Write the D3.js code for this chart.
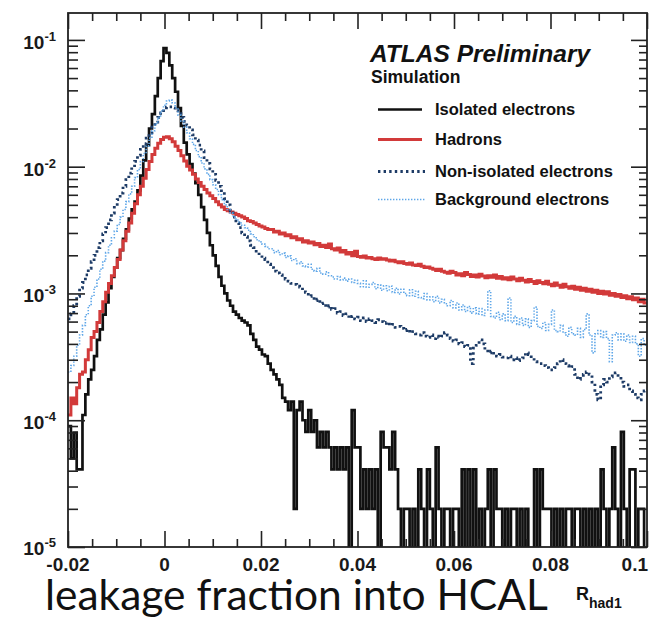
<!DOCTYPE html>
<html><head><meta charset="utf-8">
<script src="https://cdn.jsdelivr.net/npm/d3@7"></script>
<style>body{margin:0;background:#fff}</style>
</head><body>
<svg id="chart" width="666" height="626"></svg>
<script>
// Histogram binning: 200 bins from -0.02 to 0.1
const xMin = -0.02, xMax = 0.1, nBins = 200;

// Normalised R_had1 distributions (bin contents)
const isolated = [
  9.0e-5,5.0e-5,8.0e-5,4.1e-5,4.1e-5,1.1e-4,1.6e-4,2.1e-4,2.5e-4,3.2e-4,
  4.3e-4,5.2e-4,6.8e-4,8.5e-4,1.1e-3,1.35e-3,1.6e-3,1.9e-3,2.2e-3,2.7e-3,
  3.2e-3,3.9e-3,4.6e-3,5.3e-3,6.5e-3,8.5e-3,1.12e-2,1.48e-2,2.0e-2,2.6e-2,
  3.6e-2,5.0e-2,6.8e-2,8.6e-2,7.9e-2,6.3e-2,5.0e-2,3.9e-2,2.9e-2,2.1e-2,
  1.55e-2,1.25e-2,1.05e-2,8.8e-3,7.4e-3,6.0e-3,4.8e-3,3.8e-3,3.0e-3,2.4e-3,
  2.0e-3,1.65e-3,1.35e-3,1.15e-3,1.0e-3,8.8e-4,8.0e-4,7.2e-4,6.8e-4,6.4e-4,
  6.1e-4,5.9e-4,5.6e-4,4.8e-4,4.3e-4,3.8e-4,3.6e-4,3.3e-4,3.2e-4,2.8e-4,
  2.5e-4,2.3e-4,2.1e-4,1.9e-4,1.5e-4,1.4e-4,1.2e-4,1.4e-4,2.0e-5,1.2e-4,
  1.4e-4,1.0e-4,8.1e-5,1.2e-4,8.1e-5,1.0e-4,6.1e-5,8.1e-5,6.1e-5,8.1e-5,
  6.1e-5,4.1e-5,6.1e-5,4.1e-5,6.1e-5,4.1e-5,6.1e-5,0,1.2e-4,6.1e-5,
  6.1e-5,2.0e-5,4.1e-5,2.0e-5,4.1e-5,2.0e-5,4.1e-5,0,8.1e-5,6.1e-5,
  6.1e-5,4.1e-5,8.1e-5,4.1e-5,2.0e-5,0,2.0e-5,2.0e-5,0,2.0e-5,
  0,4.1e-5,2.0e-5,0,4.1e-5,2.0e-5,0,6.1e-5,2.0e-5,0,
  2.0e-5,2.0e-5,0,2.0e-5,2.0e-5,0,4.1e-5,0,4.1e-5,0,
  4.1e-5,0,2.0e-5,0,2.0e-5,4.1e-5,0,4.1e-5,2.0e-5,2.0e-5,
  0,2.0e-5,0,2.0e-5,2.0e-5,0,2.0e-5,0,2.0e-5,0,
  0,4.1e-5,0,4.1e-5,2.0e-5,2.0e-5,2.0e-5,0,2.0e-5,0,
  2.0e-5,0,2.0e-5,2.0e-5,0,2.0e-5,2.0e-5,0,2.0e-5,0,
  2.0e-5,0,2.0e-5,0,4.1e-5,2.0e-5,0,2.0e-5,6.1e-5,2.0e-5,
  0,8.1e-5,2.0e-5,0,4.1e-5,4.1e-5,0,2.0e-5,2.0e-5,0
];

const hadrons = [
  1.1e-4,1.5e-4,1.35e-4,1.8e-4,2.3e-4,2.4e-4,3.0e-4,3.6e-4,4.5e-4,5.0e-4,
  5.9e-4,7.2e-4,8.6e-4,1.02e-3,1.2e-3,1.38e-3,1.6e-3,1.85e-3,2.2e-3,2.6e-3,
  3.1e-3,3.6e-3,4.3e-3,5.1e-3,6.0e-3,7.0e-3,8.1e-3,9.5e-3,1.10e-2,1.25e-2,
  1.40e-2,1.53e-2,1.64e-2,1.71e-2,1.72e-2,1.66e-2,1.57e-2,1.45e-2,1.34e-2,1.22e-2,
  1.11e-2,1.01e-2,9.4e-3,8.7e-3,8.0e-3,7.5e-3,7.0e-3,6.6e-3,6.2e-3,5.9e-3,
  5.6e-3,5.3e-3,5.0e-3,4.8e-3,4.6e-3,4.5e-3,4.4e-3,4.3e-3,4.2e-3,4.1e-3,
  4.0e-3,3.9e-3,3.75e-3,3.7e-3,3.6e-3,3.5e-3,3.4e-3,3.35e-3,3.25e-3,3.2e-3,
  3.2e-3,3.05e-3,3.1e-3,2.95e-3,3.0e-3,2.85e-3,2.9e-3,2.75e-3,2.8e-3,2.65e-3,
  2.7e-3,2.55e-3,2.6e-3,2.5e-3,2.55e-3,2.42e-3,2.48e-3,2.35e-3,2.4e-3,2.3e-3,
  2.45e-3,2.25e-3,2.2e-3,2.28e-3,2.12e-3,2.18e-3,2.05e-3,2.1e-3,1.98e-3,2.15e-3,
  1.96e-3,1.93e-3,1.97e-3,1.90e-3,1.92e-3,1.88e-3,1.85e-3,1.90e-3,1.86e-3,1.88e-3,
  1.84e-3,1.80e-3,1.83e-3,1.78e-3,1.75e-3,1.78e-3,1.72e-3,1.70e-3,1.74e-3,1.68e-3,
  1.66e-3,1.70e-3,1.64e-3,1.60e-3,1.62e-3,1.58e-3,1.55e-3,1.52e-3,1.55e-3,1.50e-3,
  1.47e-3,1.44e-3,1.50e-3,1.46e-3,1.40e-3,1.43e-3,1.38e-3,1.46e-3,1.41e-3,1.36e-3,
  1.40e-3,1.35e-3,1.42e-3,1.37e-3,1.33e-3,1.38e-3,1.34e-3,1.40e-3,1.32e-3,1.36e-3,
  1.30e-3,1.33e-3,1.28e-3,1.35e-3,1.30e-3,1.26e-3,1.32e-3,1.27e-3,1.23e-3,1.29e-3,
  1.24e-3,1.20e-3,1.26e-3,1.22e-3,1.19e-3,1.25e-3,1.18e-3,1.15e-3,1.21e-3,1.16e-3,
  1.12e-3,1.18e-3,1.13e-3,1.10e-3,1.14e-3,1.08e-3,1.12e-3,1.06e-3,1.10e-3,1.04e-3,
  1.08e-3,1.02e-3,1.06e-3,1.00e-3,1.04e-3,9.9e-4,1.03e-3,9.7e-4,1.00e-3,9.5e-4,
  9.8e-4,9.3e-4,9.6e-4,9.1e-4,9.4e-4,8.9e-4,9.2e-4,8.6e-4,9.0e-4,8.4e-4
];

const nonIsolated = [
  6.3e-4,6.9e-4,8.0e-4,9.5e-4,1.10e-3,1.22e-3,1.40e-3,1.58e-3,1.78e-3,2.0e-3,
  2.3e-3,2.6e-3,2.95e-3,3.3e-3,3.8e-3,4.3e-3,4.9e-3,5.5e-3,6.2e-3,7.0e-3,
  7.9e-3,8.9e-3,9.9e-3,1.10e-2,1.23e-2,1.37e-2,1.52e-2,1.68e-2,1.85e-2,2.05e-2,
  2.25e-2,2.45e-2,2.65e-2,2.82e-2,2.95e-2,2.96e-2,2.90e-2,2.78e-2,2.62e-2,2.45e-2,
  2.28e-2,2.12e-2,1.95e-2,1.78e-2,1.62e-2,1.48e-2,1.33e-2,1.18e-2,1.06e-2,9.6e-3,
  8.7e-3,7.8e-3,7.0e-3,6.3e-3,5.6e-3,5.0e-3,4.5e-3,4.0e-3,3.6e-3,3.3e-3,
  3.0e-3,2.8e-3,2.6e-3,2.4e-3,2.3e-3,2.1e-3,2.0e-3,1.9e-3,1.85e-3,1.7e-3,
  1.6e-3,1.5e-3,1.45e-3,1.4e-3,1.35e-3,1.3e-3,1.25e-3,1.2e-3,1.18e-3,1.14e-3,
  1.12e-3,1.03e-3,1.02e-3,9.5e-4,9.6e-4,8.8e-4,9.0e-4,8.3e-4,8.4e-4,7.8e-4,
  8.0e-4,7.5e-4,7.6e-4,7.0e-4,7.2e-4,6.7e-4,6.9e-4,6.4e-4,6.6e-4,6.3e-4,
  6.5e-4,6.1e-4,6.4e-4,6.0e-4,6.3e-4,6.1e-4,5.9e-4,6.2e-4,6.0e-4,5.8e-4,
  5.9e-4,5.6e-4,5.7e-4,5.4e-4,5.5e-4,5.3e-4,5.1e-4,5.2e-4,4.9e-4,5.0e-4,
  4.8e-4,4.7e-4,4.9e-4,4.6e-4,4.5e-4,4.7e-4,4.4e-4,4.6e-4,4.5e-4,4.6e-4,
  4.9e-4,4.7e-4,4.4e-4,4.2e-4,4.3e-4,4.0e-4,4.1e-4,3.8e-4,3.9e-4,2.8e-4,
  3.7e-4,3.9e-4,4.3e-4,4.0e-4,3.6e-4,3.4e-4,3.5e-4,3.3e-4,3.2e-4,3.3e-4,
  3.15e-4,3.1e-4,3.2e-4,3.0e-4,3.1e-4,2.95e-4,3.0e-4,3.1e-4,3.4e-4,3.3e-4,
  3.1e-4,2.9e-4,2.8e-4,2.8e-4,2.7e-4,2.6e-4,2.5e-4,2.5e-4,2.6e-4,2.8e-4,
  3.0e-4,2.8e-4,2.7e-4,2.6e-4,2.65e-4,2.3e-4,2.1e-4,2.2e-4,2.3e-4,2.4e-4,
  2.3e-4,2.0e-4,1.6e-4,1.45e-4,1.9e-4,2.1e-4,2.0e-4,2.2e-4,2.3e-4,2.36e-4,
  2.2e-4,2.0e-4,1.85e-4,1.9e-4,1.7e-4,1.6e-4,1.5e-4,1.45e-4,1.6e-4,1.7e-4
];

const background = [
  2.4e-4,2.7e-4,3.2e-4,3.9e-4,4.7e-4,5.6e-4,6.8e-4,8.0e-4,9.5e-4,1.12e-3,
  1.3e-3,1.55e-3,1.8e-3,2.1e-3,2.4e-3,2.75e-3,3.1e-3,3.5e-3,4.0e-3,4.6e-3,
  5.3e-3,6.1e-3,7.0e-3,8.2e-3,9.5e-3,1.10e-2,1.27e-2,1.46e-2,1.68e-2,1.92e-2,
  2.18e-2,2.45e-2,2.75e-2,3.05e-2,3.30e-2,3.35e-2,3.18e-2,2.90e-2,2.55e-2,2.28e-2,
  2.05e-2,1.85e-2,1.66e-2,1.50e-2,1.34e-2,1.20e-2,1.07e-2,9.6e-3,8.7e-3,7.9e-3,
  7.2e-3,6.6e-3,6.0e-3,5.5e-3,5.0e-3,4.6e-3,4.3e-3,4.0e-3,3.8e-3,3.6e-3,
  3.45e-3,3.3e-3,3.15e-3,2.95e-3,2.8e-3,2.65e-3,2.55e-3,2.45e-3,2.35e-3,2.25e-3,
  2.25e-3,2.1e-3,2.18e-3,2.02e-3,2.08e-3,1.92e-3,1.98e-3,1.82e-3,1.88e-3,1.72e-3,
  1.78e-3,1.65e-3,1.62e-3,1.7e-3,1.55e-3,1.5e-3,1.58e-3,1.45e-3,1.42e-3,1.48e-3,
  1.38e-3,1.35e-3,1.3e-3,1.36e-3,1.28e-3,1.32e-3,1.25e-3,1.3e-3,1.22e-3,1.27e-3,
  1.2e-3,1.13e-3,1.26e-3,1.12e-3,1.18e-3,1.22e-3,1.09e-3,1.17e-3,1.06e-3,1.15e-3,
  1.05e-3,1.14e-3,1.02e-3,1.1e-3,9.9e-4,1.08e-3,1.0e-3,9.6e-4,1.07e-3,9.5e-4,
  1.04e-3,9.3e-4,9.1e-4,1.0e-3,8.9e-4,9.4e-4,8.6e-4,9.5e-4,8.4e-4,9.0e-4,
  8.3e-4,8.0e-4,8.8e-4,7.7e-4,8.4e-4,7.4e-4,8.1e-4,7.2e-4,7.9e-4,7.0e-4,
  7.7e-4,6.9e-4,7.6e-4,6.7e-4,7.4e-4,1.05e-3,6.6e-4,6.4e-4,7.1e-4,6.2e-4,
  6.9e-4,6.1e-4,9.2e-4,5.9e-4,6.6e-4,5.7e-4,6.4e-4,5.6e-4,6.3e-4,5.4e-4,
  6.1e-4,7.8e-4,5.5e-4,5.3e-4,5.9e-4,5.1e-4,5.7e-4,7.4e-4,5.1e-4,5.0e-4,
  5.6e-4,4.9e-4,4.6e-4,5.4e-4,4.8e-4,4.7e-4,5.3e-4,4.5e-4,5.2e-4,6.9e-4,
  4.7e-4,3.4e-4,4.8e-4,5.1e-4,4.5e-4,5.0e-4,4.4e-4,2.9e-4,4.7e-4,4.9e-4,
  4.3e-4,4.8e-4,4.2e-4,4.7e-4,4.1e-4,4.6e-4,4.0e-4,3.2e-4,4.4e-4,3.9e-4
];

// Axis tick values and labels
const xMajorTicks = [-0.02, 0, 0.02, 0.04, 0.06, 0.08, 0.1];
const xTickLabels = ["-0.02", "0", "0.02", "0.04", "0.06", "0.08", "0.1"];
const xMinorStep = 0.005;
const yDecadeExponents = [-1, -2, -3, -4, -5];
const yMin = 1e-5, yMax = 0.163;

const legendEntries = ["Isolated electrons", "Hadrons", "Non-isolated electrons", "Background electrons"];
const seriesList = [isolated, hadrons, nonIsolated, background];
const seriesStyles = [
  {color: "#111111", width: 2.7, dash: null},
  {color: "#d23a3a", width: 3.0, dash: null},
  {color: "#1d3b66", width: 2.8, dash: "2.4,3.2"},
  {color: "#5ea6e8", width: 1.6, dash: "1.4,1.6"}
];

const svg = d3.select("#chart");
const frame = {left: 68, right: 647, top: 13, bottom: 547};
const x = d3.scaleLinear().domain([xMin, xMax]).range([frame.left, frame.right]);
const y = d3.scaleLog().domain([yMin, yMax]).range([frame.bottom, frame.top]);
const binWidth = (xMax - xMin) / nBins;

svg.append("defs").append("clipPath").attr("id", "plotClip")
  .append("rect").attr("x", frame.left).attr("y", frame.top)
  .attr("width", frame.right - frame.left).attr("height", frame.bottom - frame.top);

// Step outline of a histogram; empty bins fall through the bottom of the frame
function histPath(vals) {
  const yv = v => v > 0 ? y(v) : frame.bottom + 4;
  let d = `M${x(xMin)},${yv(vals[0])}`;
  vals.forEach((v, i) => {
    d += `V${yv(v)}H${x(xMin + (i + 1) * binWidth)}`;
  });
  return d;
}

const plot = svg.append("g").attr("clip-path", "url(#plotClip)");
seriesList.forEach((vals, k) => {
  const st = seriesStyles[k];
  plot.append("path")
    .attr("d", histPath(vals))
    .attr("fill", "none")
    .attr("stroke", st.color)
    .attr("stroke-width", st.width)
    .attr("stroke-dasharray", st.dash)
    .attr("stroke-linejoin", "miter");
});

// Axes: inward ticks on all four sides
const xMinorTicks = d3.range(xMin, xMax + 1e-9, xMinorStep).filter(v => !xMajorTicks.some(t => Math.abs(t - v) < 1e-9));
const yMajor = yDecadeExponents.map(e => Math.pow(10, e));
const yMinor = [];
for (let e = -5; e <= -1; e++) for (let m = 2; m <= 9; m++) { const v = m * Math.pow(10, e); if (v <= yMax) yMinor.push(v); }

function styleAxis(g) {
  g.select(".domain").remove();
  g.selectAll(".tick line").attr("stroke", "#222").attr("stroke-width", 1.6);
  g.selectAll(".tick text").remove();
}
svg.append("g").attr("transform", `translate(0,${frame.bottom})`)
  .call(d3.axisBottom(x).tickValues(xMajorTicks).tickSize(-16)).call(styleAxis);
svg.append("g").attr("transform", `translate(0,${frame.bottom})`)
  .call(d3.axisBottom(x).tickValues(xMinorTicks).tickSize(-8)).call(styleAxis);
svg.append("g").attr("transform", `translate(0,${frame.top})`)
  .call(d3.axisTop(x).tickValues(xMajorTicks).tickSize(-16)).call(styleAxis);
svg.append("g").attr("transform", `translate(0,${frame.top})`)
  .call(d3.axisTop(x).tickValues(xMinorTicks).tickSize(-8)).call(styleAxis);
svg.append("g").attr("transform", `translate(${frame.left},0)`)
  .call(d3.axisLeft(y).tickValues(yMajor).tickSize(-17)).call(styleAxis);
svg.append("g").attr("transform", `translate(${frame.left},0)`)
  .call(d3.axisLeft(y).tickValues(yMinor).tickSize(-10)).call(styleAxis);
svg.append("g").attr("transform", `translate(${frame.right},0)`)
  .call(d3.axisRight(y).tickValues(yMajor).tickSize(-16)).call(styleAxis);
svg.append("g").attr("transform", `translate(${frame.right},0)`)
  .call(d3.axisRight(y).tickValues(yMinor).tickSize(-8)).call(styleAxis);

svg.append("rect")
  .attr("x", frame.left).attr("y", frame.top)
  .attr("width", frame.right - frame.left).attr("height", frame.bottom - frame.top)
  .attr("fill", "none").attr("stroke", "#222").attr("stroke-width", 1.8);

const labelFont = "'Liberation Sans', Arial, Helvetica, sans-serif";

// x tick labels
svg.append("g").selectAll("text").data(xMajorTicks).join("text")
  .attr("x", (d, i) => i === xMajorTicks.length - 1 ? frame.right + 1 : x(d))
  .attr("y", 571)
  .attr("text-anchor", (d, i) => i === xMajorTicks.length - 1 ? "end" : "middle")
  .attr("font-family", labelFont).attr("font-weight", "bold").attr("font-size", 19)
  .attr("fill", "#1a1a1a")
  .text((d, i) => xTickLabels[i]);

// y tick labels 10^n
const yl = svg.append("g").selectAll("text").data(yDecadeExponents).join("text")
  .attr("x", 56)
  .attr("y", e => Math.min(y(Math.pow(10, e)) + 9, 555))
  .attr("text-anchor", "end")
  .attr("font-family", labelFont).attr("font-weight", "bold").attr("font-size", 19)
  .attr("fill", "#1a1a1a");
yl.append("tspan").text("10");
yl.append("tspan").attr("dy", -8).attr("font-size", 13).text(e => String(e));

// Axis title
const title = svg.append("text")
  .attr("x", 45).attr("y", 610)
  .attr("font-family", "Lato, 'Open Sans', sans-serif")
  .attr("font-size", 44).attr("fill", "#111")
  .text("leakage fraction into HCAL");
const tl = title.node().getComputedTextLength();
title.attr("font-size", 44 * 503 / tl);

const rLab = svg.append("text").attr("x", 576).attr("y", 600)
  .attr("font-family", labelFont).attr("font-weight", "bold").attr("font-size", 18).attr("fill", "#111");
rLab.append("tspan").text("R");
rLab.append("tspan").attr("dy", 8).attr("font-size", 14).text("had1");

// Legend
svg.append("text").attr("x", 370).attr("y", 62)
  .attr("font-family", labelFont).attr("font-weight", "bold").attr("font-style", "italic")
  .attr("font-size", 24.5).attr("fill", "#111").text("ATLAS Preliminary");
svg.append("text").attr("x", 371).attr("y", 83)
  .attr("font-family", labelFont).attr("font-weight", "bold")
  .attr("font-size", 17.5).attr("fill", "#111").text("Simulation");

const legendBaselines = [115, 145, 177, 205];
const lg = svg.append("g");
legendEntries.forEach((name, k) => {
  const st = seriesStyles[k];
  const by = legendBaselines[k];
  lg.append("line")
    .attr("x1", 378).attr("x2", k >= 2 ? 425 : 422)
    .attr("y1", by - 5.5).attr("y2", by - 5.5)
    .attr("stroke", st.color).attr("stroke-width", st.width)
    .attr("stroke-dasharray", st.dash);
  lg.append("text").attr("x", 435).attr("y", by)
    .attr("font-family", labelFont).attr("font-weight", "bold")
    .attr("font-size", 16.5).attr("fill", "#111").text(name);
});
</script>
</body></html>
